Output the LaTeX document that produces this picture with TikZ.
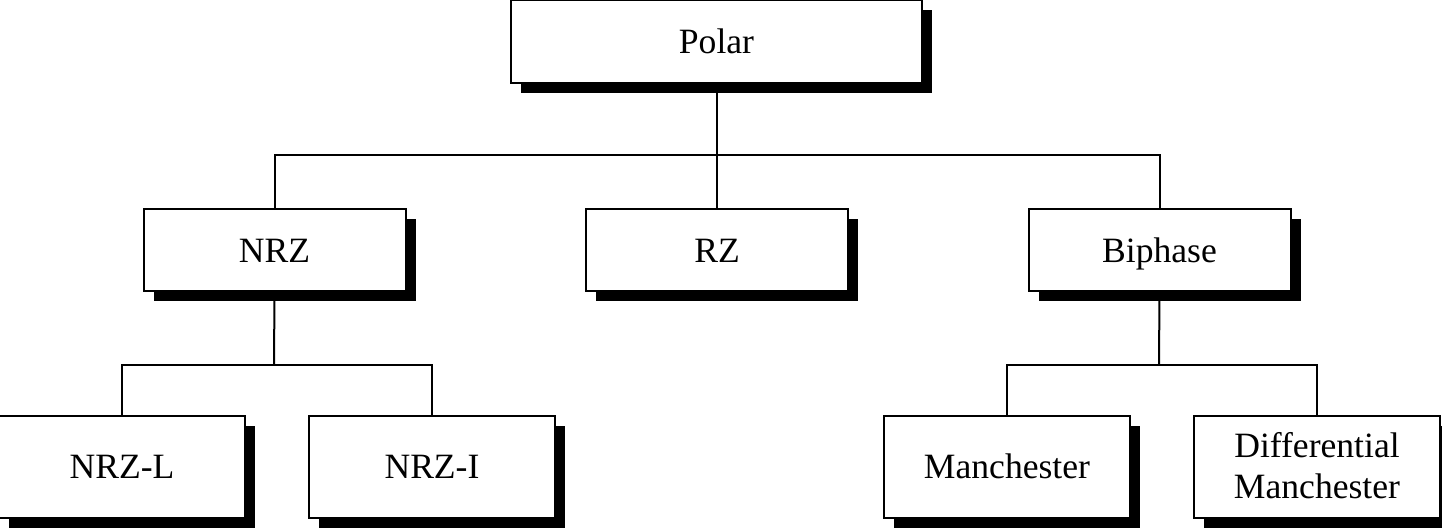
\documentclass[tikz,border=0pt]{standalone}
\usepackage{fontspec}
\setmainfont{Liberation Serif}
\usetikzlibrary{shadows}
\begin{document}
\begin{tikzpicture}[x=0.5pt,y=-0.5pt,
  box/.style={draw=black, fill=white, line width=1pt, inner sep=0pt,
    font=\fontsize{17.8}{20.5}\selectfont, align=center,
    drop shadow={shadow xshift=5pt, shadow yshift=-5pt, fill=black, opacity=1}},
  oneline/.style={text height=13.9pt, text depth=1.9pt},
  topbox/.style={box, oneline, minimum width=205.5pt, minimum height=41.5pt},
  midbox/.style={box, oneline, minimum width=131pt, minimum height=41pt},
  lowbox/.style={box, minimum width=123pt, minimum height=51pt},
  link/.style={draw=black, line width=1pt}]
\useasboundingbox (0,0) rectangle (1442,528);
\coordinate (j1) at (716,155);
\coordinate (j2) at (274,365);
\coordinate (j3) at (1159,365);
\node[topbox] (polar) at (716.5,42) {Polar};
\node[midbox] (nrz) at (274.5,250.5) {NRZ};
\node[midbox] (rz) at (717,250.5) {RZ};
\node[midbox] (biphase) at (1159.5,250.5) {Biphase};
\node[lowbox, oneline] (nrzl) at (122,467) {NRZ-L};
\node[lowbox, oneline] (nrzi) at (432,467) {NRZ-I};
\node[lowbox, oneline] (man) at (1007,467) {Manchester};
\node[lowbox] (diff) at (1317,467) {\begin{tabular}{@{}c@{}}\rule{0pt}{17.6pt}Differential\\Manchester\end{tabular}};
\draw[link] (polar.south) -- (polar.south |- rz.north);
\draw[link] (nrz.north) |- (j1) -| (biphase.north);
\draw[link] (nrz.south) -- (j2);
\draw[link] (nrzl.north) |- (j2) -| (nrzi.north);
\draw[link] (biphase.south) -- (j3);
\draw[link] (man.north) |- (j3) -| (diff.north);
\end{tikzpicture}
\end{document}
